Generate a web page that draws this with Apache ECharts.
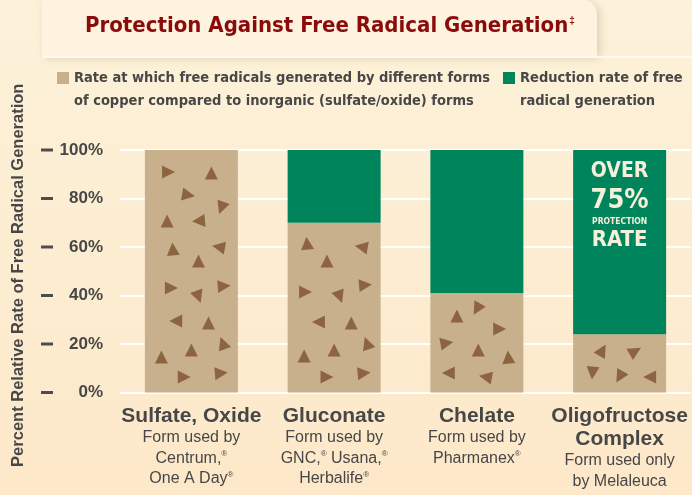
<!DOCTYPE html>
<html>
<head>
<meta charset="utf-8">
<script src="https://cdn.jsdelivr.net/npm/echarts@6/dist/echarts.min.js"></script>
<style>
  html, body { margin: 0; padding: 0; background: #fcf0d6; }
  #chart { width: 692px; height: 495px; }
</style>
</head>
<body>
<div id="chart"></div>
<script>
// chart values
const categories = ['Sulfate, Oxide', 'Gluconate', 'Chelate', 'Oligofructose\nComplex'];
const usedBy = [
  ['Form used by', 'Centrum,®', 'One A Day®'],
  ['Form used by', 'GNC,® Usana,®', 'Herbalife®'],
  ['Form used by', 'Pharmanex®'],
  ['Form used only', 'by Melaleuca']
];
const generationRate = [100, 70, 41, 24];
const reductionRate = [0, 30, 59, 76];
const yTicks = [0, 20, 40, 60, 80, 100];

// decorative triangles: [position along category axis, value %, rotation deg]
const triangles = [
  [0.34, 90.9, -90], [0.64, 90.5, 0], [0.48, 81.4, -100], [0.71, 76.1, 160],
  [0.33, 70.7, 0], [0.55, 70.7, 95], [0.37, 59.2, 5], [0.69, 60.0, 80],
  [0.55, 54.2, 0], [0.36, 43.1, -90], [0.73, 43.9, -85], [0.55, 39.4, -160],
  [0.39, 29.5, 90], [0.62, 28.7, 0], [0.72, 20.4, 20], [0.50, 17.5, 0],
  [0.29, 14.6, 0], [0.45, 6.4, -90], [0.71, 8.0, -85],
  [1.31, 61.6, 5], [1.69, 60.0, 80], [1.45, 54.2, 0], [1.30, 41.4, -90],
  [1.72, 44.3, -85], [1.54, 39.4, -160], [1.39, 29.1, 90], [1.62, 28.7, 0],
  [1.73, 20.4, 20], [1.50, 17.5, 0], [1.29, 15.1, 0], [1.45, 6.4, -90], [1.71, 8.0, -85],
  [2.36, 31.5, 0], [2.50, 34.4, 150], [2.66, 26.2, -90], [2.29, 20.4, -80],
  [2.51, 17.5, 0], [2.72, 14.6, 5], [2.30, 8.0, 90], [2.56, 6.4, 80],
  [3.38, 17.5, -30], [3.61, 17.1, -60], [3.31, 8.0, 175], [3.50, 6.4, 150], [3.71, 6.4, 90]
];

const tan = '#c9b08c';
const green = '#00845b';
const grey = '#474747';
const cond = '"DejaVu Sans Condensed", "Liberation Sans", sans-serif';
const sans = '"Liberation Sans", Arial, sans-serif';
const legendIcon = 'path://M0,0h12v12h-12z M0,36h0.01v0.01h-0.01z';

function supLine(text, style) {
  return text.split('®').map((part, i, arr) =>
    (part ? '{' + style + '|' + part + '}' : '') + (i < arr.length - 1 ? '{r|®}' : '')
  ).join('');
}

const chart = echarts.init(document.getElementById('chart'));
chart.setOption({
  backgroundColor: {
    type: 'linear', x: 0, y: 0, x2: 0, y2: 1,
    colorStops: [{ offset: 0, color: '#fcf2da' }, { offset: 1, color: '#fde8c9' }]
  },
  animation: false,
  graphic: [
    {
      type: 'rect', left: 42, top: 0, z: -10,
      shape: { width: 555, height: 56, r: [0, 14, 0, 0] },
      style: { fill: '#fdf3df', shadowBlur: 8, shadowColor: 'rgba(120,90,40,0.22)', shadowOffsetX: 3, shadowOffsetY: 2 }
    },
    {
      type: 'rect', left: 42, top: 56, z: -9,
      shape: { width: 650, height: 2 },
      style: { fill: '#fffaf0' }
    },
    {
      type: 'text', left: 85, top: 15,
      style: {
        text: '{t|Protection Against Free Radical Generation}{d|‡}',
        rich: {
          t: { fill: '#8b0b0b', fontSize: 22, fontWeight: 'bold', fontFamily: cond, lineHeight: 26 },
          d: { fill: '#8b0b0b', fontSize: 10, fontWeight: 'bold', fontFamily: sans, lineHeight: 26, padding: [0, 0, 10, 1] }
        }
      }
    }
  ],
  legend: [
    {
      data: ['Rate at which free radicals generated by different forms\nof copper compared to inorganic (sulfate/oxide) forms'],
      left: 57, top: 67, padding: 0, itemWidth: 12, itemHeight: 36, itemGap: 0,
      icon: legendIcon,
      textStyle: { color: grey, fontSize: 14.5, fontWeight: 'bold', fontFamily: cond, lineHeight: 23 }
    },
    {
      data: ['Reduction rate of free\nradical generation'],
      left: 503, top: 67, padding: 0, itemWidth: 12, itemHeight: 36, itemGap: 0,
      icon: legendIcon,
      textStyle: { color: grey, fontSize: 14.5, fontWeight: 'bold', fontFamily: cond, lineHeight: 23 }
    }
  ],
  grid: { left: 120, right: 1, top: 150, bottom: 102.5 },
  xAxis: [
    {
      type: 'category', data: categories,
      axisLine: { show: false }, axisTick: { show: false },
      axisLabel: {
        interval: 0, margin: 12, color: grey,
        formatter: (value, index) => {
          const names = value.split('\n').map(n => '{b|' + n + '}');
          const subs = usedBy[index].map(s => supLine(s, 's'));
          return names.concat(subs).join('\n');
        },
        rich: {
          b: { fontSize: 21, fontWeight: 'bold', color: grey, fontFamily: sans, lineHeight: 23 },
          s: { fontSize: 16, color: grey, fontFamily: sans, lineHeight: 20.5 },
          r: { fontSize: 8, color: grey, fontFamily: sans, lineHeight: 20.5, padding: [0, 0, 8, 0] }
        }
      }
    },
    { type: 'value', min: 0, max: 4, show: false }
  ],
  yAxis: {
    type: 'value', min: 0, max: 100, interval: 20,
    name: 'Percent Relative Rate of Free Radical Generation',
    nameLocation: 'middle', nameGap: 93,
    nameTextStyle: { color: grey, fontSize: 16.5, fontWeight: 'bold', fontFamily: sans, padding: [0, 8, 0, 0] },
    axisLine: { show: false }, axisTick: { show: false },
    splitLine: { lineStyle: { color: '#ffffff', width: 2 } },
    axisLabel: {
      margin: 17,
      formatter: v => '{t| }{g| }{v|' + v + '%}',
      rich: {
        t: { width: 12, height: 3, backgroundColor: '#4d4d4d', verticalAlign: 'middle' },
        g: { width: 6 },
        v: { width: 44, align: 'right', fontSize: 17, fontWeight: 'bold', color: grey, fontFamily: sans }
      }
    }
  },
  series: [
    {
      name: 'Rate at which free radicals generated by different forms\nof copper compared to inorganic (sulfate/oxide) forms',
      type: 'bar', stack: 'total', barWidth: 93,
      itemStyle: { color: tan },
      data: generationRate
    },
    {
      name: 'Reduction rate of free\nradical generation',
      type: 'bar', stack: 'total', barWidth: 93,
      itemStyle: { color: green },
      data: reductionRate.map((v, i) => i === 3 ? {
        value: v,
        label: {
          show: true, position: 'insideTop', distance: 8,
          formatter: '{a|OVER}\n{n|75%}\n{p|PROTECTION}\n{c|RATE}',
          rich: {
            a: { fontSize: 21, fontWeight: 'bold', color: '#f4f0dc', fontFamily: cond, lineHeight: 28, align: 'center' },
            n: { fontSize: 27, fontWeight: 'bold', color: '#f4f0dc', fontFamily: cond, lineHeight: 30, align: 'center' },
            p: { fontSize: 8.5, fontWeight: 'bold', color: '#f4f0dc', fontFamily: cond, lineHeight: 12, align: 'center' },
            c: { fontSize: 22, fontWeight: 'bold', color: '#f4f0dc', fontFamily: cond, lineHeight: 24, align: 'center' }
          }
        }
      } : v)
    },
    {
      type: 'scatter', xAxisIndex: 1, symbol: 'triangle', symbolSize: 13, z: 5,
      itemStyle: { color: '#7d522d' },
      symbolRotate: (val) => val[2],
      data: triangles
    }
  ]
});
</script>
</body>
</html>
